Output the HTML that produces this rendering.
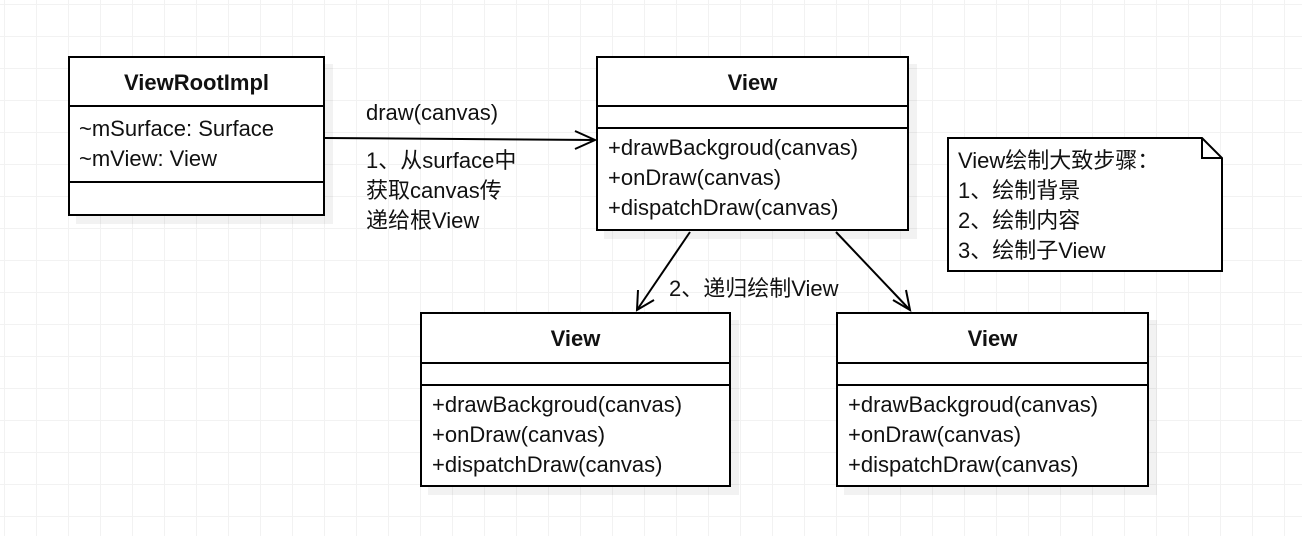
<!DOCTYPE html>
<html><head><meta charset="utf-8"><style>
body{margin:0;width:1302px;height:536px;overflow:hidden;background:#fff;
background-image:linear-gradient(#f2f2f2 1px,transparent 1px),linear-gradient(90deg,#f2f2f2 1px,transparent 1px);background-size:32px 32px;background-position:4px 4px;
font-family:"Liberation Sans","Noto Sans CJK SC",sans-serif;font-size:22px;color:#111}
.b{position:absolute;border:2px solid #000;background:#fff;box-sizing:border-box;box-shadow:8px 8px 0 rgba(0,0,0,0.05)}
.h{font-weight:bold;text-align:center;border-bottom:2px solid #000;box-sizing:border-box}
.s{border-bottom:2px solid #000;box-sizing:border-box}
.t{position:absolute;white-space:nowrap;line-height:30px}
.r{padding-left:10px;line-height:30px}
</style></head><body>
<div class="b" style="left:68px;top:56px;width:257px;height:160px">
 <div class="h" style="height:49px;line-height:49px">ViewRootImpl</div>
 <div class="s r" style="height:76px;padding-top:7px;line-height:30px;padding-left:9px">~mSurface: Surface<br>~mView: View</div>
</div>
<div class="b" style="left:596px;top:56px;width:313px;height:175px">
 <div class="h" style="height:49px;line-height:49px">View</div>
 <div class="s" style="height:22px"></div>
 <div class="r" style="padding-top:4px">+drawBackgroud(canvas)<br>+onDraw(canvas)<br>+dispatchDraw(canvas)</div>
</div>
<div class="b" style="left:420px;top:312px;width:311px;height:175px">
 <div class="h" style="height:50px;line-height:50px">View</div>
 <div class="s" style="height:22px"></div>
 <div class="r" style="padding-top:4px">+drawBackgroud(canvas)<br>+onDraw(canvas)<br>+dispatchDraw(canvas)</div>
</div>
<div class="b" style="left:836px;top:312px;width:313px;height:175px">
 <div class="h" style="height:50px;line-height:50px">View</div>
 <div class="s" style="height:22px"></div>
 <div class="r" style="padding-top:4px">+drawBackgroud(canvas)<br>+onDraw(canvas)<br>+dispatchDraw(canvas)</div>
</div>
<svg style="position:absolute;left:0;top:0" width="1302" height="536">
 <polygon points="948,138 1202,138 1222,158 1222,271 948,271" fill="#fff" stroke="#000" stroke-width="2"/>
 <polyline points="1202,138 1202,158 1222,158" fill="none" stroke="#000" stroke-width="2"/>
 <g stroke="#000" stroke-width="2" fill="none">
  <line x1="325" y1="138" x2="595" y2="140"/>
  <polyline points="575,131 595,140 575,149"/>
  <line x1="690" y1="232" x2="637" y2="310"/>
  <polyline points="638,290 637,310 654,300"/>
  <line x1="836" y1="232" x2="910" y2="310"/>
  <polyline points="893,300 910,310 906,290"/>
 </g>
</svg>
<div class="t" style="left:958px;top:146px">View绘制大致步骤：<br>1、绘制背景<br>2、绘制内容<br>3、绘制子View</div>
<div class="t" style="left:366px;top:98px">draw(canvas)</div>
<div class="t" style="left:366px;top:146px">1、从surface中<br>获取canvas传<br>递给根View</div>
<div class="t" style="left:669px;top:274px">2、递归绘制View</div>
</body></html>
